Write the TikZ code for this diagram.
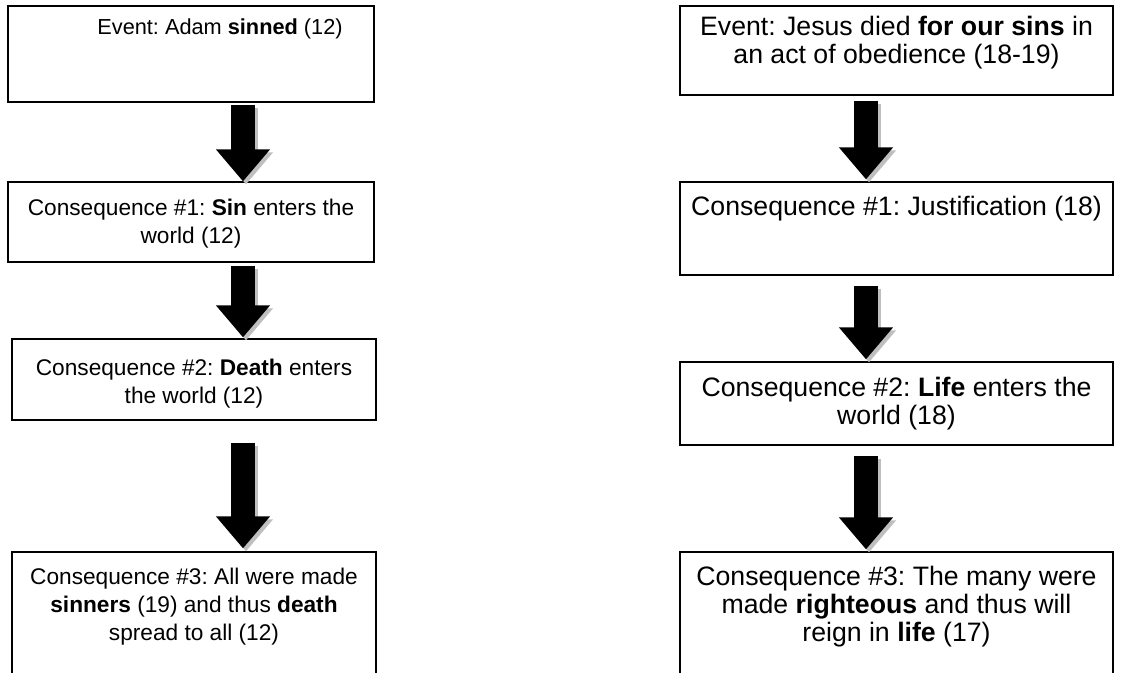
\documentclass[tikz,border=0pt]{standalone}
\usepackage{fontspec}
\setmainfont{Liberation Sans}
\usetikzlibrary{arrows.meta}
\usetikzlibrary{positioning}
\usetikzlibrary{calc}
\usetikzlibrary{fit}

\begin{document}
\frenchspacing
\begin{tikzpicture}[x = 0.75pt, y = -0.75pt,
        box/.style = {draw, line width = 0.9pt, inner sep = 0pt},
        ltxt/.style = {align = center, inner sep = 0pt,
            font = \fontsize{17pt}{21pt}\selectfont},
        rtxt/.style = {align = center, inner sep = 0pt,
            font = \fontsize{20pt}{21pt}\selectfont},
        blk/.style = {line width = 18pt, -{Triangle[width = 39pt, length = 24pt]}},
        blkshadow/.style = {blk, color = black!25,
            transform canvas = {shift = {(3, 3)}}}]
        \useasboundingbox (0, 0) rectangle (1122, 672);

        % left column: Adam
        \node[box, fit = {(8, 6) (374, 102)}] (adam) {};
        \node[box, fit = {(8, 182) (374, 262)}] (sin) {};
        \node[box, fit = {(12, 339) (376, 420)}] (death) {};
        \node[box, fit = {(12, 552) (376, 700)}] (sinners) {};

        \node[ltxt, font = \fontsize{16.3pt}{21pt}\selectfont,
            below = 9.75pt of adam.north, xshift = 21.75pt] (adamtxt)
            {Event: Adam \textbf{sinned} (12)};
        \node[ltxt, below = 13.25pt of sin.north] (sintxt)
            {Consequence \#1: \textbf{Sin} enters the\\world (12)};
        \node[ltxt, below = 15.5pt of death.north] (deathtxt)
            {Consequence \#2: \textbf{Death} enters\\the world (12)};
        \node[ltxt, below = 12.5pt of sinners.north] (sinnerstxt)
            {Consequence \#3: All were made\\\textbf{sinners} (19) and thus \textbf{death}\\spread to all (12)};

        % right column: Jesus
        \node[box, fit = {(680, 6) (1113, 95)}] (jesus) {};
        \node[box, fit = {(680, 182) (1113, 275)}] (justif) {};
        \node[box, fit = {(680, 362) (1113, 445)}] (life) {};
        \node[box, fit = {(680, 552) (1113, 700)}] (righteous) {};

        \node[rtxt, below = 8.25pt of jesus.north] (jesustxt)
            {Event: Jesus died \textbf{for our sins} in\\an act of obedience (18-19)};
        \node[rtxt, below = 11.25pt of justif.north] (justiftxt)
            {Consequence \#1: Justification (18)};
        \node[rtxt, below = 12pt of life.north] (lifetxt)
            {Consequence \#2: \textbf{Life} enters the\\world (18)};
        \node[rtxt, below = 11.25pt of righteous.north] (righteoustxt)
            {Consequence \#3: The many were\\made \textbf{righteous} and thus will\\reign in \textbf{life} (17)};

        % block arrows, shadow first
        \foreach \s in {blkshadow, blk} {
            \draw[\s] ($(adam.south) + (52, 2)$) -- ($(sin.north) + (52, 0)$);
            \draw[\s] ($(sin.south) + (52, 3)$) -- ($(death.north) + (49, -1)$);
            \draw[\s] ($(death.south) + (49, 22)$) -- ($(sinners.north) + (49, -3)$);
            \draw[\s] ($(jesus.south) + (-30.5, 5)$) -- ($(justif.north) + (-30.5, -2)$);
            \draw[\s] ($(justif.south) + (-30.5, 10)$) -- ($(life.north) + (-30.5, -2)$);
            \draw[\s] ($(life.south) + (-30.5, 10)$) -- ($(righteous.north) + (-30.5, -2)$);
        }
    \end{tikzpicture}
\end{document}
